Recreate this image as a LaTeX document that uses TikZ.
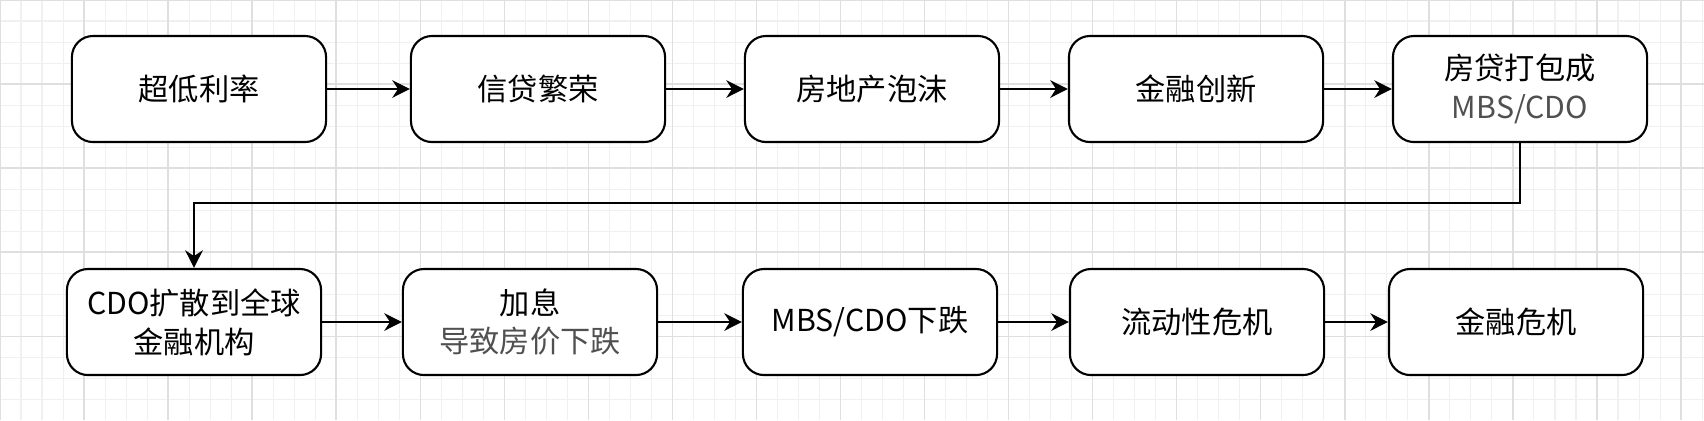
\documentclass[tikz,border=0pt]{standalone}
\usepackage{fontspec}
\setmainfont{Noto Sans CJK SC}
\usetikzlibrary{arrows.meta,positioning}
\tikzset{
  step box/.style={draw, line width=0.6pt, rounded corners=6pt, fill=white,
    minimum width=2.54cm, minimum height=1.06cm, align=center, font=\fontsize{8.6}{11}\selectfont},
  flow/.style={-{Stealth[length=5pt,width=5pt]}, line width=0.6pt}
}
\definecolor{subtext}{RGB}{80,80,80}
\begin{document}
\begin{tikzpicture}[x=0.01cm,y=-0.01cm]
  \useasboundingbox (0,0) rectangle (1704,420);
  \draw [gray!12, line width=0.3pt] (0,0) grid[step=0.21cm] (1704,420);
  \draw [gray!25, line width=0.4pt] (0,0) grid[step=0.84cm] (1704,420);

  % first row
  \node [step box] (rate) at (199,89) {超低利率};
  \node [step box] (credit) at (538,89) {信贷繁荣};
  \node [step box] (bubble) at (872,89) {房地产泡沫};
  \node [step box] (innov) at (1196,89) {金融创新};
  \node [step box] (pack) at (1520,89) {房贷打包成\\\textcolor{subtext}{MBS/CDO}};

  % second row
  \node [step box] (spread) at (194,322) {CDO扩散到全球\\金融机构};
  \node [step box] (hike) at (530,322) {加息\\\textcolor{subtext}{导致房价下跌}};
  \node [step box] (fall) at (870,322) {MBS/CDO下跌};
  \node [step box] (liquid) at (1197,322) {流动性危机};
  \node [step box] (crisis) at (1516,322) {金融危机};

  \draw [flow] (rate) -- (credit);
  \draw [flow] (credit) -- (bubble);
  \draw [flow] (bubble) -- (innov);
  \draw [flow] (innov) -- (pack);
  \draw [flow] (pack.south) |- (1520,203) -| (spread.north);
  \draw [flow] (spread) -- (hike);
  \draw [flow] (hike) -- (fall);
  \draw [flow] (fall) -- (liquid);
  \draw [flow] (liquid) -- (crisis);
\end{tikzpicture}
\end{document}
